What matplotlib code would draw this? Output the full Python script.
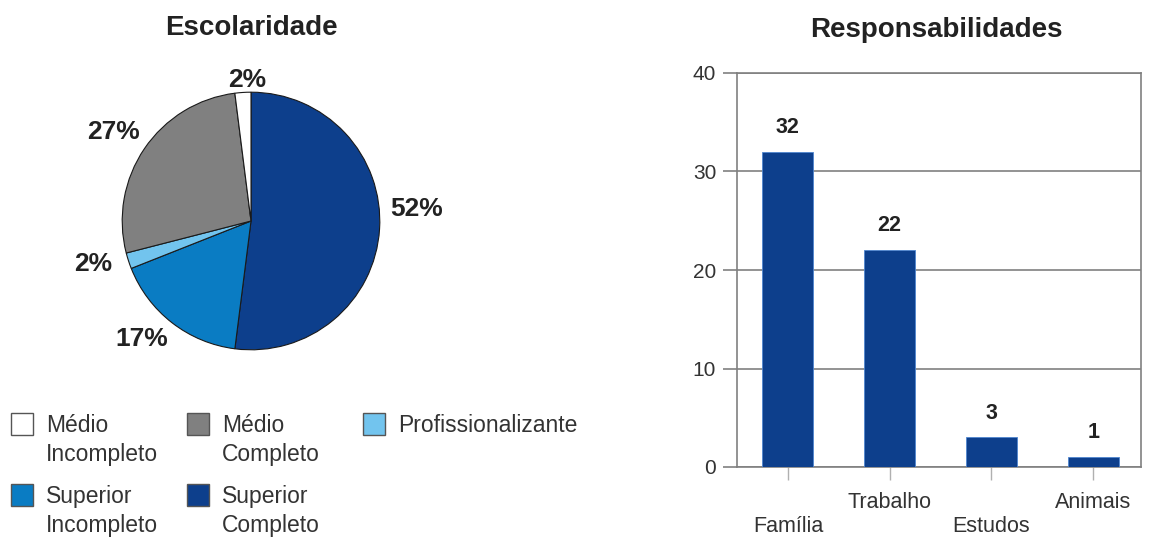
import matplotlib
matplotlib.use('Agg')
import matplotlib.pyplot as plt
from matplotlib.patches import Rectangle

plt.rcParams['font.family'] = ['Liberation Sans', 'DejaVu Sans']

# Dados
escolaridade = ['Superior\nCompleto', 'Superior\nIncompleto', 'Profissionalizante',
                'Médio\nCompleto', 'Médio\nIncompleto']
percentuais = [52, 17, 2, 27, 2]
cores_pizza = ['#0d3f8c', '#0a7cc3', '#72c4ee', '#808080', '#ffffff']

responsabilidades = ['Família', 'Trabalho', 'Estudos', 'Animais']
quantidades = [32, 22, 3, 1]
yticks = [0, 10, 20, 30, 40]

W, H = 1149, 539
fig = plt.figure(figsize=(W / 100, H / 100), dpi=100)


def caixa(x0, y0, x1, y1):
    # pixels com origem no topo -> fracao da figura
    return [x0 / W, 1 - y1 / H, (x1 - x0) / W, (y1 - y0) / H]


def fx(x):
    return x / W


def fy(y):
    return 1 - y / H


# Pizza - Escolaridade
ax1 = fig.add_axes(caixa(90, 60, 412, 382))
fatias, _, textos = ax1.pie(percentuais, colors=cores_pizza, startangle=90,
                            counterclock=False,
                            autopct=lambda p: f'{p:.0f}%', pctdistance=1.25,
                            wedgeprops=dict(edgecolor='#1a1a1a', linewidth=0.8),
                            textprops=dict(fontsize=19, fontweight='bold',
                                           color='#222222'))
ax1.set_xlim(-1.25, 1.25)
ax1.set_ylim(-1.25, 1.25)
# pequenos ajustes dos rotulos
ajustes = [(0.04, 0.175), (-0.08, 0.07), (-0.04, 0.05), (-0.03, -0.01), (0.05, -0.155)]
for t, (dx, dy) in zip(textos, ajustes):
    px, py = t.get_position()
    t.set_position((px + dx, py + dy))

fig.text(fx(251), fy(28), 'Escolaridade', ha='center', va='center',
         fontsize=20, fontweight='bold', color='#222222')

# Legenda manual
ordem = [4, 3, 2, 1, 0]
colunas = [11, 187, 363]
linhas = [413, 484]
posicoes = [(0, 0), (1, 0), (2, 0), (0, 1), (1, 1)]
for idx, (c, r) in zip(ordem, posicoes):
    x0 = colunas[c]
    y0 = linhas[r]
    fig.add_artist(Rectangle((fx(x0), fy(y0 + 22)), 22 / W, 22 / H,
                             facecolor=cores_pizza[idx], edgecolor='#555555',
                             linewidth=1, transform=fig.transFigure))
    fig.text(fx(x0 + 35), fy(y0 + 1), escolaridade[idx], ha='left', va='top',
             fontsize=16.5, color='#333333', linespacing=1.33)

# Barras - Responsabilidades
ax2 = fig.add_axes(caixa(737, 73, 1141, 467))
x = list(range(len(responsabilidades)))
barras = ax2.bar(x, quantidades, width=0.5, color='#0d3f8c',
                 edgecolor='#4f86cf', linewidth=0.6, zorder=3)
ax2.set_xlim(-0.5, 3.47)
ax2.set_ylim(0, 40)
ax2.set_yticks(yticks)
ax2.yaxis.grid(True, color='#808080', linewidth=1.2)
ax2.set_axisbelow(True)
ax2.set_xticks(x)
ax2.set_xticklabels([('\n' + r) if i % 2 == 0 else r
                     for i, r in enumerate(responsabilidades)])
ax2.tick_params(axis='x', length=9, width=1, color='#b0b0b0', pad=9,
                labelsize=15.5, labelcolor='#333333')
ax2.tick_params(axis='y', length=10, width=1.2, color='#808080', pad=5,
                labelsize=15, labelcolor='#333333')
for s in ax2.spines.values():
    s.set_color('#808080')
    s.set_linewidth(1.2)
ax2.bar_label(barras, padding=10, fontsize=15.5, fontweight='bold', color='#222222')

fig.text(fx(936), fy(30), 'Responsabilidades', ha='center', va='center',
         fontsize=20, fontweight='bold', color='#222222')

fig.savefig('out.png', dpi=100)
